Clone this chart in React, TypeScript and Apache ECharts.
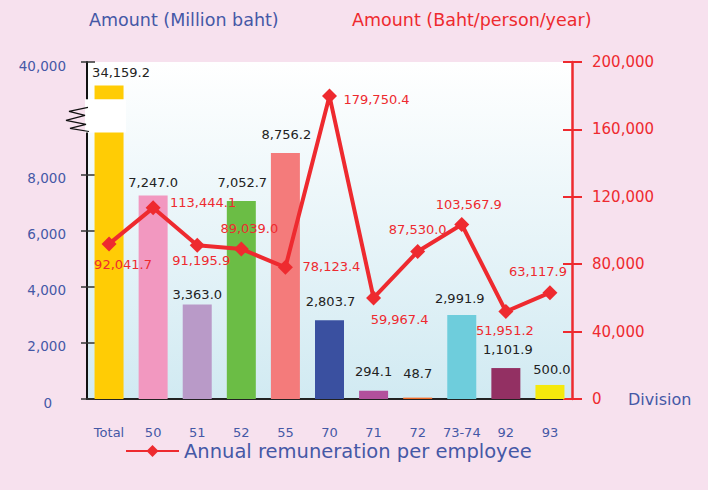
import React, { useEffect, useRef } from 'react';
import * as echarts from 'echarts';

// ---- data ----
const categories = ['Total', '50', '51', '52', '55', '70', '71', '72', '73-74', '92', '93'];
const amountMillionBaht = [34159.2, 7247.0, 3363.0, 7052.7, 8756.2, 2803.7, 294.1, 48.7, 2991.9, 1101.9, 500.0];
const remunerationPerEmployee = [92041.7, 113444.1, 91195.9, 89039.0, 78123.4, 179750.4, 59967.4, 87530.0, 103567.9, 51951.2, 63117.9];
const leftTickValues = [0, 2000, 4000, 6000, 8000, 40000];
const rightAxisMax = 200000;
const rightAxisInterval = 40000;
const lineSeriesName = 'Annual remuneration per employee';

// ---- styles ----
const barColors = ['#ffcc05', '#f298c0', '#b99ac8', '#6bbd45', '#f47b7b', '#3a50a0', '#b2509c', '#f06a25', '#6ecddc', '#933063', '#f5e90c'];
const barLabelOffsets = [[12, -1], [0, -1], [0, 1], [1, -7], [1, -7], [1, -7], [0, -8], [0, -13], [-2, -5], [2, -7], [2, -4]];
const lineLabelOffsets = [[14, 21], [50, -5], [4, 15], [8, -20], [46, -1], [47, 3], [26, 22], [0, -22], [7, -20], [-1, 19], [-12, -21]];

const PINK = '#f7e1ee';
const BLUE = '#4558a6';
const RED = '#ee2a2f';
const DARK = '#222222';
const FONT = 'DejaVu Sans';

// broken left axis: linear below the break, compressed above it
const BREAK_AT = 9000;
const DISPLAY_TOP = 12000;
const REAL_TOP = 40000;
const UPPER_K = 0.143;
const toDisplay = (v: number) => (v <= BREAK_AT ? v : DISPLAY_TOP - (REAL_TOP - v) * UPPER_K);
const fromDisplay = (d: number) => (d <= BREAK_AT ? d : REAL_TOP - (DISPLAY_TOP - d) / UPPER_K);
const BREAK_BAND = [9490, 10670];

const fmt1 = (v: number) => v.toLocaleString('en-US', { minimumFractionDigits: 1, maximumFractionDigits: 1 });
const fmt0 = (v: number) => Math.round(v).toLocaleString('en-US');

export default function App() {
  const ref = useRef<HTMLDivElement>(null);
  useEffect(() => {
    document.body.style.margin = '0';
    document.body.style.background = PINK;
    const chart = echarts.init(ref.current!, undefined, { renderer: 'svg' });
    const leftTicksDisplay = leftTickValues.map(toDisplay);
    const option: any = {
      animation: false,
      backgroundColor: PINK,
      textStyle: { fontFamily: FONT },
      title: [
        { text: 'Amount (Million baht)', left: 89, top: 11, padding: 0, textStyle: { color: BLUE, fontSize: 17.5, fontWeight: 'normal', fontFamily: FONT } },
        { text: 'Amount (Baht/person/year)', left: 352, top: 11, padding: 0, textStyle: { color: RED, fontSize: 17.5, fontWeight: 'normal', fontFamily: FONT } },
      ],
      grid: {
        left: 87, right: 136, top: 62, bottom: 91,
        show: true, borderWidth: 0,
        backgroundColor: new echarts.graphic.LinearGradient(0, 0, 0, 1, [
          { offset: 0, color: '#ffffff' },
          { offset: 1, color: '#d1eaf2' },
        ]),
      },
      legend: {
        data: [lineSeriesName], left: 125, top: 441, itemWidth: 53, itemHeight: 15, padding: 0,
        textStyle: { color: BLUE, fontSize: 19.5, fontFamily: FONT },
      },
      xAxis: [
        {
          type: 'category', data: categories, position: 'bottom',
          axisLine: { lineStyle: { color: '#111', width: 2 } },
          axisTick: { length: 7, interval: 0, lineStyle: { color: '#111', width: 1.5 } },
          axisLabel: { color: BLUE, fontSize: 13, margin: 27, interval: 0, fontFamily: FONT },
          name: 'Division', nameLocation: 'end', nameGap: 56,
          nameTextStyle: { color: BLUE, fontSize: 16, fontFamily: FONT, verticalAlign: 'middle', padding: [4, 0, 0, 0] },
        },
        {
          type: 'category', data: categories, position: 'bottom',
          axisLine: { show: false },
          axisTick: { alignWithLabel: true, interval: 0, length: 4, lineStyle: { color: '#111', width: 1.5 } },
          axisLabel: { show: false },
        },
        {
          type: 'category', data: categories, position: 'top',
          axisLine: { lineStyle: { color: '#222', width: 2 } },
          axisTick: { show: false }, axisLabel: { show: false },
        },
      ],
      yAxis: [
        {
          type: 'value', min: 0, max: DISPLAY_TOP, position: 'left',
          axisLine: { show: true, lineStyle: { color: '#111', width: 2 } },
          axisTick: { show: true, customValues: leftTicksDisplay, length: 6, lineStyle: { color: '#333', width: 1.5 } },
          axisLabel: {
            customValues: leftTicksDisplay,
            formatter: (d: number) => (d === 0 ? '{zero|0}' : fmt0(fromDisplay(d))),
            color: BLUE, fontSize: 13.5, margin: 21, fontFamily: FONT, padding: [7, 0, 0, 0],
            rich: { zero: { color: BLUE, fontSize: 13.5, fontFamily: FONT, padding: [0, 14, 0, 0] } },
          },
          splitLine: { show: false },
        },
        {
          type: 'value', min: 0, max: rightAxisMax, interval: rightAxisInterval, position: 'right',
          axisLine: { show: true, lineStyle: { color: RED, width: 2.5 } },
          axisTick: { show: true, length: 10, lineStyle: { color: RED, width: 2 } },
          axisLabel: { color: RED, fontSize: 15, margin: 20, fontFamily: FONT, padding: [3, 0, 0, 0], formatter: (v: number) => fmt0(v) },
          splitLine: { show: false },
        },
        {
          type: 'value', min: 0, max: DISPLAY_TOP, position: 'left',
          axisLine: { show: false },
          axisTick: { show: true, inside: true, customValues: leftTicksDisplay, length: 8, lineStyle: { color: '#333', width: 1.5 } },
          axisLabel: { show: false }, splitLine: { show: false },
        },
        {
          type: 'value', min: 0, max: rightAxisMax, interval: rightAxisInterval, position: 'right',
          axisLine: { show: false },
          axisTick: { show: true, inside: true, length: 9, lineStyle: { color: RED, width: 2 } },
          axisLabel: { show: false }, splitLine: { show: false },
        },
      ],
      series: [
        {
          type: 'bar', xAxisIndex: 0, yAxisIndex: 0, barWidth: 29,
          data: amountMillionBaht.map((v, i) => ({
            value: toDisplay(v),
            itemStyle: { color: barColors[i] },
            label: { offset: barLabelOffsets[i] },
          })),
          label: {
            show: true, position: 'top', color: DARK, fontSize: 13, fontFamily: FONT,
            formatter: (p: any) => fmt1(amountMillionBaht[p.dataIndex]),
          },
          z: 2,
        },
        {
          type: 'line', name: lineSeriesName, xAxisIndex: 0, yAxisIndex: 1,
          data: remunerationPerEmployee.map((v, i) => ({ value: v, label: { offset: lineLabelOffsets[i] } })),
          symbol: 'diamond', symbolSize: 15,
          lineStyle: { color: RED, width: 4 },
          itemStyle: { color: RED },
          label: {
            show: true, position: 'inside', color: RED, fontSize: 13, fontFamily: FONT,
            formatter: (p: any) => fmt1(remunerationPerEmployee[p.dataIndex]),
          },
          z: 5,
        },
      ],
    };
    chart.setOption(option);

    const yLow = chart.convertToPixel({ yAxisIndex: 0 }, BREAK_BAND[0]) as number;
    const yHigh = chart.convertToPixel({ yAxisIndex: 0 }, BREAK_BAND[1]) as number;
    const xCenter = chart.convertToPixel({ xAxisIndex: 0 }, categories[0]) as number;
    const axisX = 87;
    const bandTop = yHigh;
    const bandBottom = yLow;
    const h = bandBottom - bandTop;
    chart.setOption({
      graphic: [
        {
          type: 'rect', z: 100,
          shape: { x: axisX - 2, y: bandTop, width: xCenter + 17 - (axisX - 2), height: h },
          style: { fill: '#ffffff' },
        },
        {
          type: 'polyline', z: 101,
          shape: {
            points: [
              [axisX + 1, bandTop + 8],
              [axisX - 18, bandTop + 12],
              [axisX - 2, bandTop + 16],
              [axisX - 21, bandTop + 21],
              [axisX - 1, bandTop + 25],
              [axisX - 17, bandTop + 29],
              [axisX + 2, bandBottom - 1],
            ],
          },
          style: { stroke: '#111', lineWidth: 1.2, fill: 'none' },
        },
      ],
    });
    return () => chart.dispose();
  }, []);
  return <div ref={ref} style={{ width: 708, height: 490, background: PINK }} />;
}
